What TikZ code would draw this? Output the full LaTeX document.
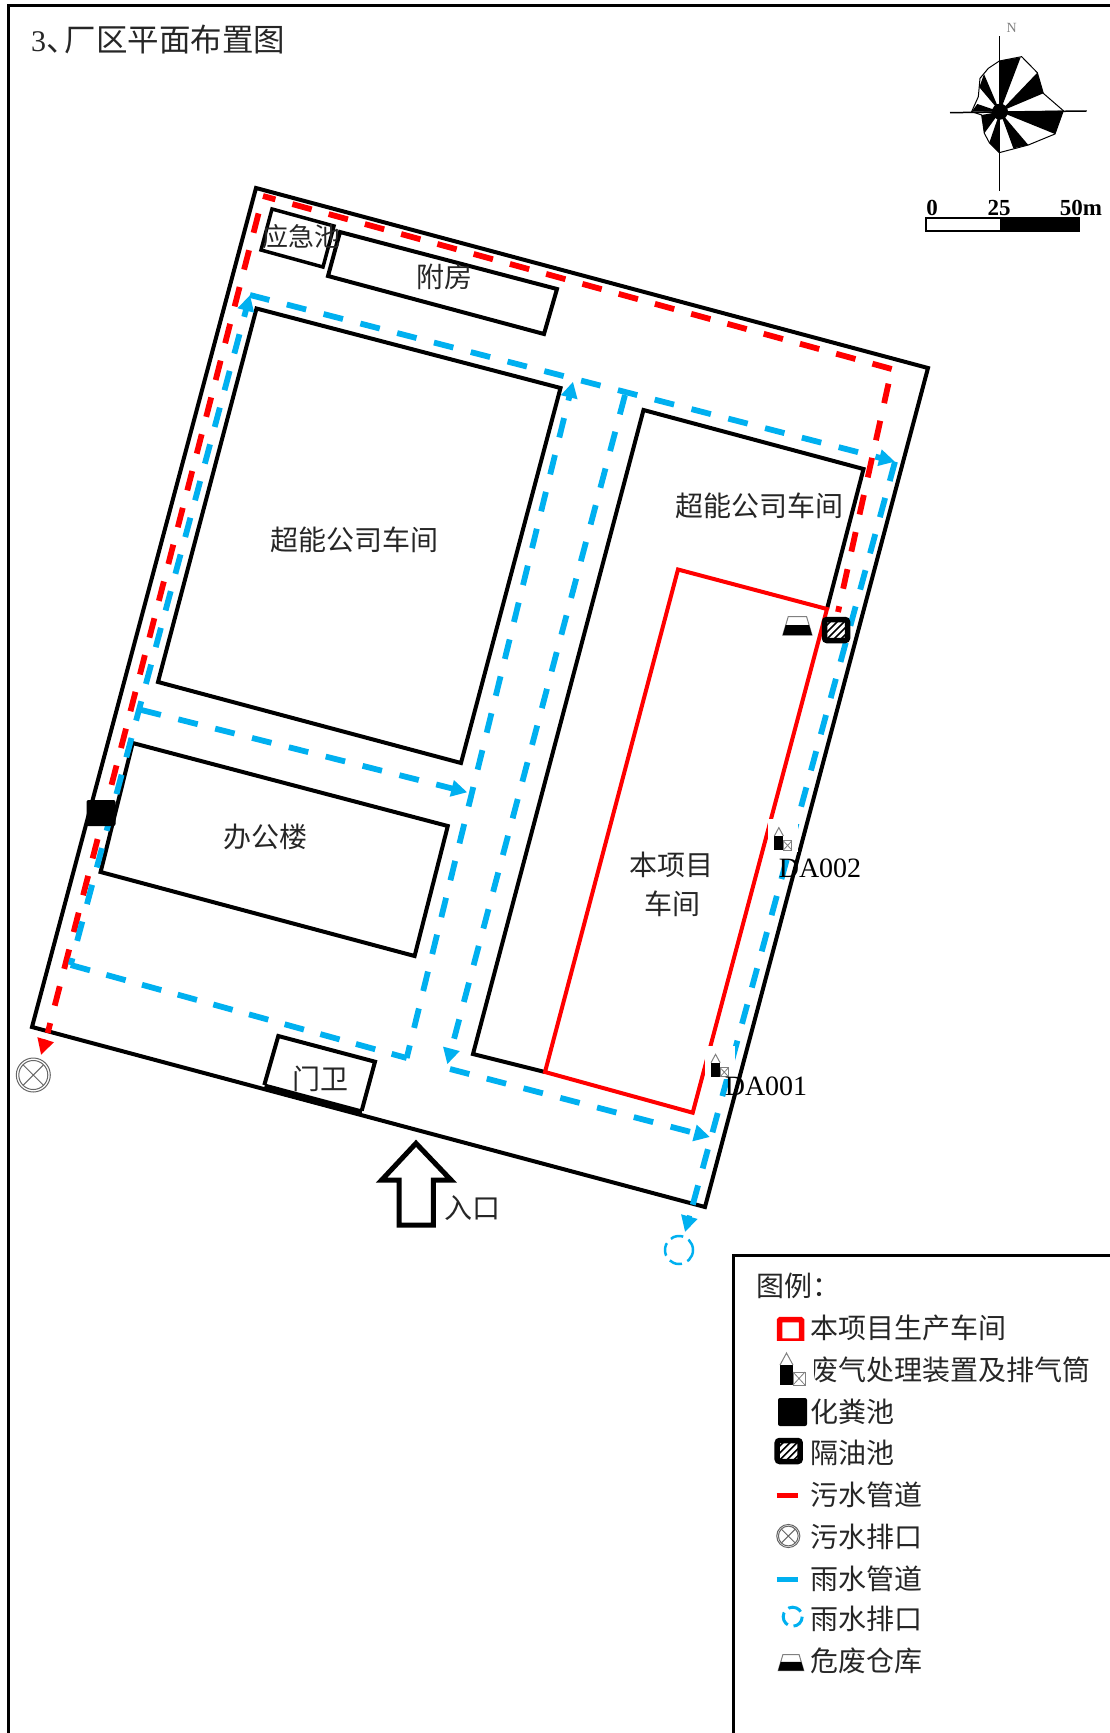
\documentclass[tikz,border=0pt]{standalone}
\usepackage{fontspec}
\setmainfont{Liberation Serif}
\newfontfamily\cjk{Noto Sans CJK SC}
\usetikzlibrary{arrows.meta}

\definecolor{pipeblue}{HTML}{00B0F0}
\definecolor{pipered}{HTML}{FF0000}

\tikzset{
  wall/.style={draw=black,line width=4pt,line join=miter},
  frameline/.style={draw=black,line width=3pt},
  label/.style={inner sep=0pt,text=black!85,font=\cjk\fontsize{28}{28}\selectfont},
  latin/.style={inner sep=0pt,font=\fontsize{28}{28}\selectfont},
  scalemark/.style={inner sep=0pt,font=\bfseries\fontsize{23}{23}\selectfont},
  sewer/.style={draw=pipered,line width=5.8pt,dash pattern=on 20pt off 18pt},
  storm/.style={draw=pipeblue,line width=5.8pt,dash pattern=on 20pt off 18pt},
  sewertip/.style={-{Triangle[length=16pt,width=16pt,fill=pipered]}},
  stormtip/.style={-{Triangle[length=16pt,width=16pt,fill=pipeblue]}},
  septic/.style={fill=black,rounded corners=2pt,inner sep=0pt,minimum width=29pt,minimum height=26pt},
  oiltrap/.style={draw=black,fill=white,line width=5.5pt,rounded corners=2.5pt,inner sep=0pt,
    minimum width=23pt,minimum height=21pt,
    path picture={
      \begin{scope}[shift={(path picture bounding box.center)}]
      \foreach \s in {-21,-14,...,21}
        \draw[black,line width=1.7pt] (\s-14,14) -- (\s+14,-14);
      \end{scope}
    }},
  stackmark/.pic={
    \fill[white] (-9,3) rectangle (34,-44);
    \fill[black] (0,0) rectangle (13,-20);
    \draw[gray,line width=1pt] (0,-20) -- (6.5,-32) -- (13,-20);
    \draw[gray,line width=1pt] (13,0) rectangle (25,-13);
    \draw[gray,line width=.8pt] (13,0) -- (25,-13) (13,-13) -- (25,0);
  },
  wastemark/.pic={
    \draw[gray,line width=1pt,fill=white] (-14.6,0) -- (-9.2,-18.3) -- (9.2,-18.3) -- (14.6,0) -- cycle;
    \fill[black] (-14.6,0) -- (-11.7,-10) -- (11.7,-10) -- (14.6,0) -- cycle;
  },
  drainmark/.pic={
    \draw[black!60,line width=1pt] (0,0) circle (17);
    \draw[black!60,line width=1pt] (0,0) circle (14.5);
    \draw[black!60,line width=1pt] (-10,-10) -- (10,10) (-10,10) -- (10,-10);
  }
}

\begin{document}
\begin{tikzpicture}[x=1pt,y=-1pt]
\useasboundingbox (0,0) rectangle (1110,1733);
\draw[frameline] (1110,5.5) -- (8,5.5) -- (8,1733);
\draw[frameline] (1110,1255) -- (733,1255) -- (733,1733);
\node[label,anchor=west] (title) at (31,40) {\fontsize{30}{30}\selectfont\rmfamily 3\cjk\fontsize{31.5}{31.5}\selectfont 、\hspace{-13pt}厂区平面布置图};

\draw[wall] (256,188) -- (928,368) -- (705,1207) -- (32,1027) -- cycle;
\draw[wall,line width=3.5pt] (272,209) -- (334,226) -- (323,267) -- (261,250) -- cycle;
\draw[wall] (340,232) -- (557,289) -- (544,334) -- (328,276) -- cycle;
\draw[wall] (256.5,308.5) -- (560.5,388) -- (461,763) -- (158,682) -- cycle;
\draw[wall] (132.7,743) -- (447.8,826) -- (414.6,956) -- (100.6,872) -- cycle;
\draw[wall] (827,609) -- (863.5,469) -- (643.5,410) -- (473,1054) -- (545,1072);
\draw[draw=pipered,line width=4pt] (678,569.5) -- (827,609) -- (692.7,1112.7) -- (545,1072) -- cycle;
\draw[wall] (264.3,1085) -- (278.3,1036) -- (375,1061.7) -- (361.7,1110.7);
\draw[black,line width=7pt] (264.3,1087) -- (361.7,1113);

\draw[wall,line width=5pt] (416,1143.3) -- (381.7,1180) -- (399,1180) -- (399,1225) -- (433.3,1225) -- (433.3,1180) -- (451,1180) -- cycle;

\coordinate (sewerA) at (838,612);
\coordinate (sewerB) at (891.7,369);
\coordinate (sewerC) at (263,196);
\coordinate (sewerD) at (47.7,1033);
\coordinate (sewerE) at (41,1055);
\draw[sewer,dash phase=23pt] (sewerB) -- (sewerA);
\draw[sewer,dash pattern=on 20pt off 17.6pt] (sewerB) -- (sewerC);
\draw[sewer,dash phase=20pt] (sewerC) -- (sewerD);
\draw[sewertip,draw=pipered,line width=5pt,shorten <=7pt] (sewerD) -- (sewerE);

\coordinate (stormA) at (70.7,965);
\coordinate (stormB) at (250,295);
\coordinate (stormC) at (895,461.7);
\coordinate (stormD) at (692.7,1205);
\coordinate (stormE) at (685,1232);
\coordinate (stormF) at (141.5,710);
\coordinate (stormG) at (467.3,792.3);
\coordinate (stormH) at (406.7,1058);
\coordinate (stormI) at (573,381.7);
\coordinate (stormJ) at (625,395);
\coordinate (stormK) at (447.3,1064.3);
\coordinate (stormL) at (450,1069);
\coordinate (stormM) at (710,1137);
\draw[storm,stormtip,dash phase=13pt] (stormA) -- (stormB);
\draw[storm,stormtip] (stormB) -- (stormC);
\draw[storm,dash pattern=on 20pt off 17.5pt] (stormC) -- (stormD);
\draw[stormtip,draw=pipeblue,line width=5pt,shorten <=11pt] (stormD) -- (stormE);
\draw[storm,stormtip] (stormF) -- (stormG);
\draw[storm,dash pattern=on 20pt off 17pt] (stormA) -- (stormH);
\draw[storm,stormtip,dash phase=7pt] (stormH) -- (stormI);
\draw[storm,stormtip] (stormJ) -- (stormK);
\draw[storm,stormtip] (stormL) -- (stormM);

\node[label,font=\cjk\fontsize{26}{26}\selectfont] (emergency) at (301,237) {应急池};
\node[label] (annex) at (444.5,276.4) {附房};
\node[label] (shopleft) at (354,539.5) {超能公司车间};
\node[label] (shopright) at (759.5,506) {超能公司车间};
\node[label] (projecta) at (671,864.5) {本项目};
\node[label] (projectb) at (672,904) {车间};
\node[label] (office) at (265,837) {办公楼};
\node[label] (guard) at (320.6,1079) {门卫};
\node[label] (entrance) at (472,1208) {入口};

\node[septic] (septicsite) at (101,813) {};
\node[oiltrap] (oilsite) at (836,630) {};
\pic at (797.4,635) {wastemark};
\pic[scale=.7] at (774.3,850) {stackmark};
\pic[scale=.7] at (711,1076.7) {stackmark};
\node[latin] (daB) at (820,868) {DA002};
\node[latin] (daA) at (766,1086) {DA001};
\pic at (33.3,1075) {drainmark};
\draw[pipeblue,line width=2.5pt,dash pattern=on 13pt off 6pt] (679,1250) circle (14);

\begin{scope}[shift={(880,0)},scale=.3333]
\fill[black] (360,335) circle (24);
\foreach \a/\b/\c/\d in {358/183/422/172,472/218/490/280,550/332/525/402,445/435/400/445,358/458/328/428,313/400/305/345,275/335/292/312,312/222/298/262}
  \fill[black] (360,335) -- (\a,\b) -- (\c,\d) -- cycle;
\draw[black,line width=1pt] (358,183) -- (425,170) -- (472,218) -- (490,280) -- (550,332) -- (525,402) -- (445,435) -- (358,458) -- (328,428) -- (313,400) -- (305,345) -- (275,335) -- (295,290) -- (300,235) -- (325,205) -- cycle;
\draw[black,line width=1.5pt] (358,108) -- (358,572);
\draw[black,line width=1.5pt] (210,338) -- (620,333);
\end{scope}
\node[inner sep=0pt,text=gray,font=\fontsize{14}{14}\selectfont] (north) at (1011.7,28) {N};

\draw[black,line width=1.5pt,fill=white] (926,218) rectangle (1001,231);
\fill[black] (1001,217) rectangle (1080,232);
\node[scalemark] (scalezero) at (932,208) {0};
\node[scalemark] (scalemid) at (999,208) {25};
\node[scalemark] (scaleend) at (1081,208) {50m};

\node[label,anchor=west] (legend) at (756.7,1286) {图例：};
\node[label,anchor=west] (itemA) at (810,1328.3) {本项目生产车间};
\node[label,anchor=west] (itemB) at (810,1370) {废气处理装置及排气筒};
\node[label,anchor=west] (itemC) at (810,1411.7) {化粪池};
\node[label,anchor=west] (itemD) at (810,1453.3) {隔油池};
\node[label,anchor=west] (itemE) at (810,1495) {污水管道};
\node[label,anchor=west] (itemF) at (810,1536.7) {污水排口};
\node[label,anchor=west] (itemG) at (810,1578.3) {雨水管道};
\node[label,anchor=west] (itemH) at (810,1619.3) {雨水排口};
\node[label,anchor=west] (itemI) at (810,1660.7) {危废仓库};

\draw[draw=pipered,line width=5.5pt,rounded corners=1pt] (779.5,1319.5) rectangle (801.5,1341);
\pic at (780,1385) {stackmark};
\node[septic,minimum height=28pt] (septickey) at (792.5,1412) {};
\node[oiltrap] (oilkey) at (788.7,1451) {};
\draw[draw=pipered,line width=5pt] (776.7,1495) -- (797.7,1495);
\pic[scale=.68] at (788.3,1536) {drainmark};
\draw[draw=pipeblue,line width=5pt] (776.7,1579) -- (797.7,1579);
\draw[pipeblue,line width=3pt,dash pattern=on 14pt off 6pt] (792.7,1616.7) circle (9.5);
\pic[scale=.88] at (791,1670.7) {wastemark};
\end{tikzpicture}
\end{document}
